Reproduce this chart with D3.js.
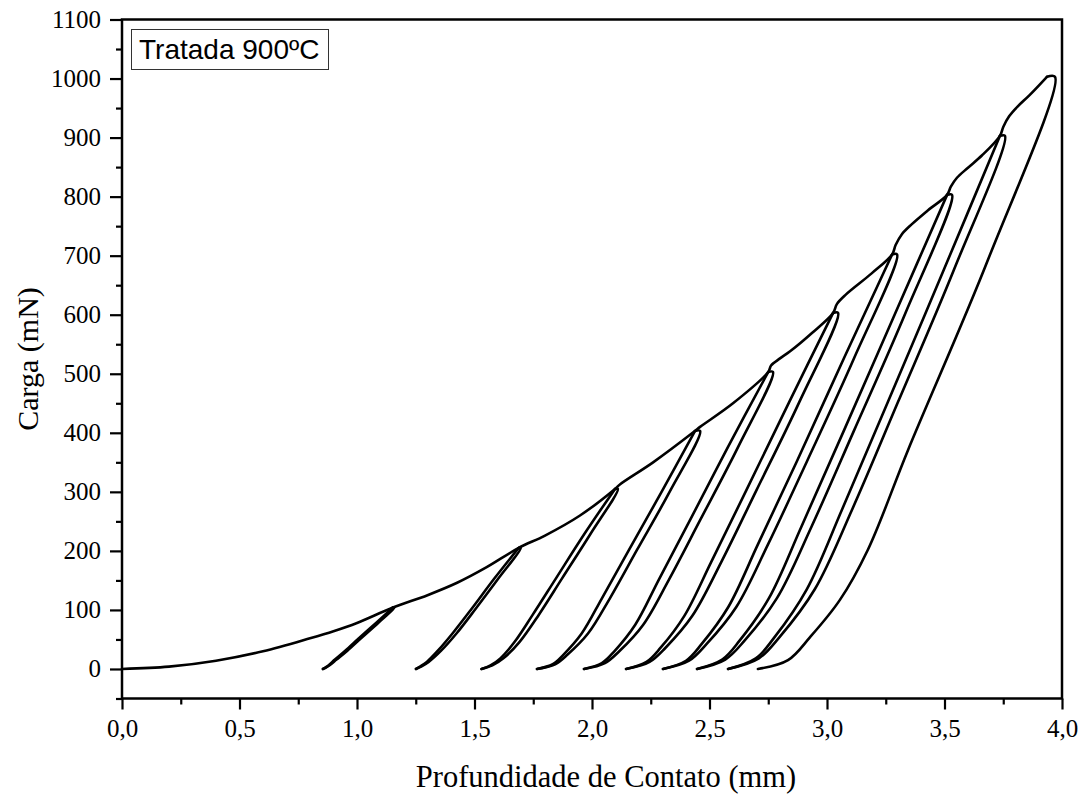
<!DOCTYPE html>
<html>
<head>
<meta charset="utf-8">
<script src="https://cdn.jsdelivr.net/npm/d3@7"></script>
<style>
  body { margin: 0; background: #fff; }
  svg { display: block; }
</style>
</head>
<body>
<div id="container"></div>
<script>
// tick marks
var yMajor = [0, 100, 200, 300, 400, 500, 600, 700, 800, 900, 1000, 1100];
var yMinor = [-50, 50, 150, 250, 350, 450, 550, 650, 750, 850, 950, 1050];
var xMajor = [0, 0.5, 1.0, 1.5, 2.0, 2.5, 3.0, 3.5, 4.0];
var xMinor = [0.25, 0.75, 1.25, 1.75, 2.25, 2.75, 3.25, 3.75];

// loading envelope [depth, load]
var envelope = [[0,0],[0.2,4],[0.4,14],[0.6,30],[0.8,52],[0.9,64],[1.0,78],[1.153,104],
  [1.30,125],[1.426,146],[1.55,172],[1.688,205],
  [1.80,226],[1.949,260],[2.098,305],
  [2.12,313],[2.26,350],[2.438,403],
  [2.46,410],[2.60,450],[2.750,503],
  [2.762,514],[2.80,526],[2.843,538],[2.936,569],[3.026,603],
  [3.042,618],[3.08,634],[3.19,670],[3.277,702],
  [3.292,718],[3.318,736],[3.36,753],[3.43,777],[3.511,803],
  [3.527,817],[3.553,832],[3.60,849],[3.66,870],[3.736,903],
  [3.750,918],[3.775,936],[3.812,953],[3.862,972],[3.936,1003]];

// unloading curves (hold + unload)
var u1 = [[1.153,104],[1.160,104],[1.090,78],[1.017,52],[0.959,31],[0.913,16],[0.882,6],[0.866,2],[0.855,0]];
var u2 = [[1.688,205],[1.697,205],[1.603,154],[1.505,102],[1.425,61],[1.358,31],[1.305,12],[1.273,4],[1.251,0]];
var u3 = [[2.098,305],[2.110,305],[1.994,229],[1.872,153],[1.774,92],[1.692,46],[1.623,18],[1.576,6],[1.530,0]];
var u4 = [[2.438,403],[2.460,403],[2.333,302],[2.192,202],[2.078,121],[1.983,60],[1.895,24],[1.843,8],[1.766,0]];
var u5 = [[2.750,503],[2.770,503],[2.623,377],[2.460,252],[2.327,151],[2.218,75],[2.116,30],[2.055,10],[1.966,0]];
var u6 = [[3.026,603],[3.047,603],[2.882,452],[2.699,302],[2.550,181],[2.427,90],[2.313,36],[2.245,12],[2.145,0]];
var u7 = [[3.277,702],[3.298,702],[3.116,527],[2.914,351],[2.749,211],[2.614,105],[2.487,42],[2.413,14],[2.302,0]];
var u8 = [[3.511,803],[3.532,803],[3.333,602],[3.113,402],[2.934,241],[2.787,120],[2.649,48],[2.567,16],[2.447,0]];
var u9 = [[3.736,903],[3.757,903],[3.541,677],[3.302,452],[3.108,271],[2.948,135],[2.798,54],[2.710,18],[2.579,0]];
var u10 = [[3.936,1003],[3.970,1003],[3.685,693],[3.345,371],[3.174,202],[3.055,117],[2.928,54],[2.834,15],[2.706,0]];

// reloading curves
var r1 = [[0.855,0],[0.863,2],[0.878,6],[0.906,16],[0.950,31],[1.008,52],[1.081,78],[1.153,104]];
var r2 = [[1.251,0],[1.268,4],[1.297,12],[1.344,31],[1.408,61],[1.488,102],[1.586,154],[1.688,205]];
var r3 = [[1.530,0],[1.568,6],[1.610,18],[1.671,46],[1.748,92],[1.846,153],[1.968,229],[2.098,305]];
var r4 = [[1.766,0],[1.833,8],[1.878,24],[1.956,60],[2.044,121],[2.158,202],[2.299,302],[2.438,403]];
var r5 = [[1.966,0],[2.042,10],[2.095,30],[2.184,75],[2.284,151],[2.417,252],[2.580,377],[2.750,503]];
var r6 = [[2.145,0],[2.232,12],[2.292,36],[2.393,90],[2.507,181],[2.656,302],[2.839,452],[3.026,603]];
var r7 = [[2.302,0],[2.400,14],[2.466,42],[2.580,105],[2.706,211],[2.871,351],[3.073,527],[3.277,702]];
var r8 = [[2.447,0],[2.554,16],[2.628,48],[2.753,120],[2.891,241],[3.070,402],[3.290,602],[3.511,803]];
var r9 = [[2.579,0],[2.697,18],[2.777,54],[2.914,135],[3.065,271],[3.259,452],[3.498,677],[3.736,903]];

var curves = [envelope, u1, u2, u3, u4, u5, u6, u7, u8, u9, u10, r1, r2, r3, r4, r5, r6, r7, r8, r9];

var svg_width = 1086, svg_height = 803;
var plotLeft = 122, plotRight = 1062, plotTop = 19.5, plotBottom = 698.5;

var svg = d3.select("#container").append("svg")
  .attr("width", svg_width)
  .attr("height", svg_height);

var x = d3.scaleLinear().domain([0, 4]).range([plotLeft, plotRight]);
var y = d3.scaleLinear().domain([-50, 1100]).range([plotBottom, plotTop]);

var serif = "'Liberation Serif','Times New Roman',serif";

// data lines
var line = d3.line()
  .x(function(d) { return x(d[0]); })
  .y(function(d) { return y(d[1]); })
  .curve(d3.curveCatmullRom.alpha(0.5));

svg.append("g").selectAll("path")
  .data(curves)
  .enter()
  .append("path")
  .attr("d", line)
  .attr("fill", "none")
  .attr("stroke", "#000")
  .attr("stroke-width", 2.6)
  .attr("stroke-linejoin", "round")
  .attr("stroke-linecap", "round");

// axes
var yAxis = d3.axisLeft(y).tickValues(yMajor).tickSize(12).tickSizeOuter(0).tickPadding(9)
  .tickFormat(d3.format("d"));
var yAxisMinor = d3.axisLeft(y).tickValues(yMinor).tickSize(6).tickSizeOuter(0).tickFormat("");
var xAxis = d3.axisBottom(x).tickValues(xMajor).tickSize(11).tickSizeOuter(0).tickPadding(10)
  .tickFormat(function(d) { return d3.format(".1f")(d).replace(".", ","); });
var xAxisMinor = d3.axisBottom(x).tickValues(xMinor).tickSize(6).tickSizeOuter(0).tickFormat("");

function styleAxis(g) {
  g.select(".domain").remove();
  g.selectAll("line").attr("stroke", "#000").attr("stroke-width", 2.2);
  g.selectAll("text").attr("fill", "#000").style("font-family", serif).style("font-size", "25px");
}

svg.append("g").attr("transform", "translate(" + plotLeft + ",0)").call(yAxis).call(styleAxis);
svg.append("g").attr("transform", "translate(" + plotLeft + ",0)").call(yAxisMinor).call(styleAxis);
svg.append("g").attr("transform", "translate(0," + plotBottom + ")").call(xAxis).call(styleAxis);
svg.append("g").attr("transform", "translate(0," + plotBottom + ")").call(xAxisMinor).call(styleAxis);

// frame
svg.append("rect")
  .attr("x", plotLeft)
  .attr("y", plotTop)
  .attr("width", plotRight - plotLeft)
  .attr("height", plotBottom - plotTop)
  .attr("fill", "none")
  .attr("stroke", "#000")
  .attr("stroke-width", 2.5);

// axis titles
svg.append("text")
  .text("Profundidade de Contato (mm)")
  .attr("x", 606)
  .attr("y", 787)
  .attr("text-anchor", "middle")
  .style("font-family", serif)
  .style("font-size", "30.5px");

svg.append("text")
  .text("Carga (mN)")
  .attr("transform", "translate(38," + ((plotTop + plotBottom) / 2) + ") rotate(-90)")
  .attr("text-anchor", "middle")
  .style("font-family", serif)
  .style("font-size", "30px");

// legend box
svg.append("rect")
  .attr("x", 131.5)
  .attr("y", 29.5)
  .attr("width", 197)
  .attr("height", 40)
  .attr("fill", "#fff")
  .attr("stroke", "#333")
  .attr("stroke-width", 1);

svg.append("text")
  .text("Tratada 900ºC")
  .attr("x", 139)
  .attr("y", 59)
  .style("font-family", "'Liberation Sans',Arial,sans-serif")
  .style("font-size", "28px");
</script>
</body>
</html>
